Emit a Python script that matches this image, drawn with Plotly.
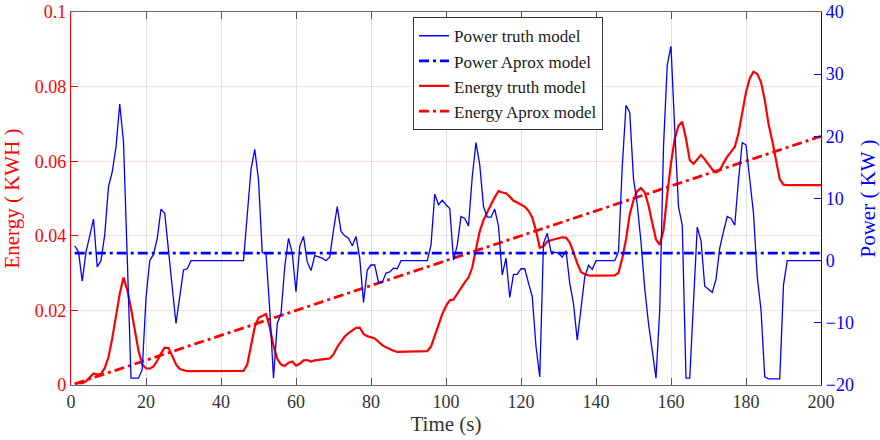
import plotly.graph_objects as go

# ---------------- data ----------------
time_power = [
    1, 2, 3, 4, 5, 6, 7, 8, 9, 10, 11, 12, 13, 14, 15, 16, 17, 18, 19, 20,
    21, 22, 23, 24, 25, 26, 27, 28, 29, 30, 31, 32,
    46, 47, 48, 49, 50, 51, 52, 53, 54, 55, 56, 57, 58, 59, 60,
    61, 62, 63, 64, 65, 66, 67, 68, 69, 70, 71, 72, 73, 74, 75, 76, 77, 78, 79, 80,
    81, 82, 83, 84, 85, 86, 87, 88,
    95, 96, 97, 98, 99, 100, 101, 102, 103, 104, 105, 106, 107, 108, 109, 110,
    111, 112, 113, 114, 115, 116, 117, 118, 119, 120,
    121, 122, 123, 124, 125, 126, 127, 128, 129, 130,
    131, 132, 133, 134, 135, 136, 137, 138, 139, 140,
    145, 146, 147, 148, 149, 150, 151, 152, 153, 154, 155, 156, 157, 158, 159, 160,
    161, 162, 163, 164, 165, 166, 167, 168, 169, 170,
    171, 172, 173, 174, 175, 176, 177, 178, 179, 180,
    181, 182, 183, 184, 185, 186, 187, 188, 189, 190, 191, 200,
]
power_truth = [
    2.4, 1.4, -3.3, 1.4, 4.0, 6.7, -1.0, 0.0, 4.2, 11.9, 14.3, 18.3, 25.2, 19.1, 0.5, -18.9, -18.9, -18.9, -17.5, -6.0,
    0.0, 1.0, 3.6, 8.3, 7.6, 1.2, -4.3, -10.1, -5.8, -1.5, -1.3, 0.0,
    0.0, 7.0, 14.7, 17.9, 13.0, 1.3, 1.2, -7.9, -18.9, -10.1, -8.5, -1.0, 3.6, 1.2, -5.0,
    2.3, 3.9, -0.2, -1.6, 0.8, 0.6, 0.4, 0.0, 0.6, 4.9, 8.7, 4.7, 4.0, 3.6, 2.4, 3.9, 0.4, -6.7, -1.5, -0.7,
    -0.7, -3.5, -3.5, -2.0, -1.8, -1.2, -1.3, 0.0,
    0.0, 2.5, 10.7, 9.0, 9.7, 9.0, 8.4, 0.1, 2.5, 7.1, 6.8, 5.6, 13.5, 19.0, 15.4, 8.7,
    7.0, 7.0, 8.3, 5.5, -2.3, 0.4, -5.9, -2.2, -2.2, -1.3,
    -1.3, -3.6, -5.8, -13.8, -18.7, 2.8, 4.4, 1.45, 1.35, 1.2,
    0.55, 1.6, -3.6, -6.9, -12.8, -7.4, -2.6, -0.75, -1.4, 0.0,
    0.0, 1.45, 15.1, 25.0, 23.8, 13.2, 9.0, 3.0, -4.5, -10.1, -14.5, -18.9, -7.9, 18.3, 31.5, 34.5,
    21.0, 8.7, 5.7, -18.9, -18.9, -5.8, 5.4, 3.2, -4.1, -4.6,
    -5.1, -3.0, 2.0, 4.7, 7.1, 6.8, 5.7, 13.0, 19.0, 18.6,
    13.0, 7.6, -2.6, -7.9, -18.7, -19.0, -19.0, -19.0, -19.0, -3.9, 0.0, 0.0,
]

time_energy = [
    1, 2, 3, 4, 5, 6, 7, 8, 9, 10, 11, 12, 13, 14, 15, 16, 17, 18, 19, 20,
    21, 22, 23, 24, 25, 26, 27, 28, 29, 30, 31,
    46, 47, 48, 49, 50, 51, 52, 53, 54, 55, 56, 57, 58, 59, 60,
    61, 62, 63, 64, 65, 66, 67, 68, 69, 70, 71, 72, 73, 74, 75, 76, 77, 78, 79, 80,
    81, 82, 83, 84, 85, 86, 87,
    95, 96, 97, 98, 99, 100, 101, 102, 103, 104, 105, 106, 107, 108, 109, 110,
    111, 112, 113, 114, 115, 116, 117, 118, 119, 120,
    121, 122, 123, 124, 125, 126, 127, 128, 129, 130,
    131, 132, 133, 134, 135, 136, 137, 138, 139,
    145, 146, 147, 148, 149, 150, 151, 152, 153, 154, 155, 156, 157, 158, 159, 160,
    161, 162, 163, 164, 165, 166, 167, 168, 169, 170,
    171, 172, 173, 174, 175, 176, 177, 178, 179, 180,
    181, 182, 183, 184, 185, 186, 187, 188, 189, 190, 191, 200,
]
energy_truth = [
    0.0004, 0.0004, 0.0005, 0.0010, 0.0020, 0.0031, 0.0028, 0.0030, 0.0045, 0.0075, 0.0125, 0.0180, 0.0245, 0.0288, 0.0255, 0.0205, 0.0150, 0.0092, 0.0055, 0.0045,
    0.0044, 0.0050, 0.0065, 0.0085, 0.0100, 0.0099, 0.0078, 0.0055, 0.0043, 0.0040, 0.0037,
    0.0038, 0.0055, 0.0105, 0.0155, 0.0180, 0.0185, 0.0190, 0.0155, 0.0105, 0.0070, 0.0055, 0.0051, 0.0060, 0.0063, 0.0052,
    0.0057, 0.0066, 0.0067, 0.0063, 0.0066, 0.0068, 0.0069, 0.0070, 0.0071, 0.0082, 0.0102, 0.0117, 0.0130, 0.0139, 0.0145, 0.0153, 0.0154, 0.0137, 0.0131, 0.0128,
    0.0125, 0.0116, 0.0107, 0.0101, 0.0096, 0.0092, 0.0089,
    0.0091, 0.0103, 0.0133, 0.0160, 0.0190, 0.0212, 0.0227, 0.0229, 0.0245, 0.0262, 0.0275, 0.0288, 0.0315, 0.0365, 0.0412, 0.0442,
    0.0465, 0.0484, 0.0503, 0.0520, 0.0516, 0.0514, 0.0505, 0.0494, 0.0489, 0.0484,
    0.0478, 0.0467, 0.0449, 0.0414, 0.0368, 0.0372, 0.0385, 0.0388, 0.0390, 0.0393,
    0.0396, 0.0395, 0.0382, 0.0356, 0.0326, 0.0303, 0.0297, 0.0294, 0.0293,
    0.0294, 0.0301, 0.0340, 0.0390, 0.0458, 0.0495, 0.0520, 0.0528, 0.0516, 0.0482, 0.0435, 0.0390, 0.0376, 0.0415, 0.0510, 0.0595,
    0.0660, 0.0695, 0.0706, 0.0660, 0.0603, 0.0593, 0.0605, 0.0617, 0.0605, 0.0592,
    0.0578, 0.0570, 0.0575, 0.0595, 0.0612, 0.0625, 0.0638, 0.0675, 0.0735, 0.0785,
    0.0822, 0.0840, 0.0834, 0.0812, 0.0765, 0.0700, 0.0655, 0.0605, 0.0552, 0.0537, 0.0536, 0.0536,
]

approx_time = [1, 200]
power_approx = [1.2, 1.2]
energy_approx = [0.0003, 0.0667]

x_ticks = [0, 20, 40, 60, 80, 100, 120, 140, 160, 180, 200]
energy_ticks = [0, 0.02, 0.04, 0.06, 0.08, 0.1]
energy_tick_text = ["0", "0.02", "0.04", "0.06", "0.08", "0.1"]
power_ticks = [-20, -10, 0, 10, 20, 30, 40]

assert len(time_power) == len(power_truth)
assert len(time_energy) == len(energy_truth)

FONT = "Liberation Serif, Times New Roman, serif"
BLUE = "#0000ff"
RED = "#ff0000"
DASHDOT = "10px,4px,3px,4px"

fig = go.Figure()
fig.add_trace(go.Scatter(x=time_power, y=power_truth, yaxis="y2", mode="lines",
                         name="Power truth model", line=dict(color=BLUE, width=1.3)))
fig.add_trace(go.Scatter(x=approx_time, y=power_approx, yaxis="y2", mode="lines",
                         name="Power Aprox model", line=dict(color=BLUE, width=2.8, dash=DASHDOT)))
fig.add_trace(go.Scatter(x=time_energy, y=energy_truth, mode="lines",
                         name="Energy truth model", line=dict(color=RED, width=2.2)))
fig.add_trace(go.Scatter(x=approx_time, y=energy_approx, mode="lines",
                         name="Energy Aprox model", line=dict(color=RED, width=2.8, dash=DASHDOT)))

fig.update_layout(
    width=880, height=440,
    margin=dict(l=71, r=59, t=12, b=55),
    paper_bgcolor="white", plot_bgcolor="white",
    font=dict(family=FONT, size=18, color="#333333"),
    showlegend=True,
    legend=dict(x=0.456, y=0.986, xanchor="left", yanchor="top",
                bgcolor="white", bordercolor="#333333", borderwidth=1,
                font=dict(family=FONT, size=17, color="#1a1a1a"),
                itemwidth=30, tracegroupgap=0),
    xaxis=dict(range=[0, 200], tickvals=x_ticks, showline=True, linecolor="#666666", linewidth=1.3,
               mirror="ticks", ticks="inside", ticklen=7, tickcolor="#555555",
               showgrid=True, gridcolor="#e2e2e2", zeroline=False, automargin=False,
               tickfont=dict(size=18, color="#333333"),
               title=dict(text="Time (s)", font=dict(size=21, color="#333333"), standoff=4)),
    yaxis=dict(range=[0, 0.1], tickvals=energy_ticks, ticktext=energy_tick_text,
               showline=True, linecolor=RED, linewidth=1.3, ticks="inside", ticklen=7, tickcolor=RED,
               showgrid=True, gridcolor="rgba(255,0,0,0.13)", zeroline=False, automargin=False,
               tickfont=dict(size=18, color=RED),
               title=dict(text="Energy ( KWH )", font=dict(size=21, color=RED), standoff=10)),
    yaxis2=dict(range=[-20, 40], tickvals=power_ticks, overlaying="y", side="right",
                showline=True, linecolor=BLUE, linewidth=1.3, ticks="inside", ticklen=7, tickcolor=BLUE,
                showgrid=False, zeroline=False, automargin=False,
                tickfont=dict(size=18, color=BLUE),
                title=dict(text="Power ( KW )", font=dict(size=21, color=BLUE), standoff=10)),
)

fig.write_html("out.html")
